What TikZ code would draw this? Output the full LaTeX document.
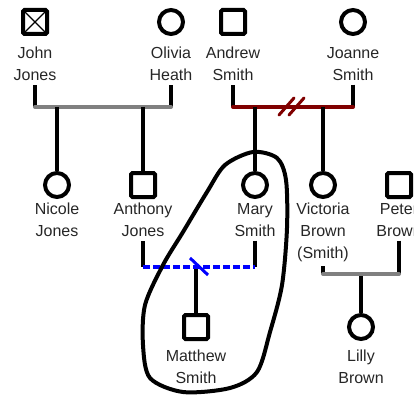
\documentclass[tikz,border=0pt]{standalone}
\usepackage{fontspec}
\setmainfont{Liberation Sans}
\definecolor{bondgray}{HTML}{808080}
\definecolor{splitred}{HTML}{800000}
\begin{document}
\begin{tikzpicture}[x=1pt,y=-1pt,
  male/.style={draw,line width=4pt,rounded corners=1.5pt,minimum size=24pt,inner sep=0pt},
  female/.style={draw,circle,line width=4pt,minimum size=24pt,inner sep=0pt},
  who/.style={anchor=north,align=center,inner sep=0pt,text=black!85,font=\fontsize{16}{22}\selectfont},
  stem/.style={line width=4pt,shorten <=4pt},
  drop/.style={line width=4pt},
  bond/.style={line width=4pt,bondgray,line cap=round},
  split/.style={line width=4pt,splitred,line cap=round},
  liaison/.style={line width=4pt,blue,dash pattern=on 7pt off 3pt},
  ring/.style={line width=4pt,line join=round}]
\useasboundingbox (0,0) rectangle (414,398);
\clip (0,0) rectangle (414,398);

% first generation
\node[male,path picture={\draw[line width=1.2pt]
  (path picture bounding box.north west) -- (path picture bounding box.south east)
  (path picture bounding box.north east) -- (path picture bounding box.south west);}]
  (john) at (35,22) {};
\node[female] (olivia) at (171,22) {};
\node[male] (andrew) at (233,22) {};
\node[female] (joanne) at (353,22) {};
\node[who] (johnL) at (35,47) {John\\Jones};
\node[who] (oliviaL) at (171,47) {Olivia\\Heath};
\node[who] (andrewL) at (233,47) {Andrew\\Smith};
\node[who] (joanneL) at (353,47) {Joanne\\Smith};

\coordinate (jo) at (35,107);
\coordinate (ol) at (171,107);
\coordinate (an) at (233,107);
\coordinate (jn) at (353,107);
\coordinate (jonesA) at (57,107);
\coordinate (jonesB) at (143,107);
\coordinate (smithA) at (255,107);
\coordinate (smithB) at (323,107);
\coordinate (cut) at (291,107);

% second generation
\node[female] (nicole) at (57,185) {};
\node[male] (anthony) at (143,185) {};
\node[female] (mary) at (255,185) {};
\node[female] (victoria) at (323,185) {};
\node[male] (peter) at (399,185) {};
\node[who] (nicoleL) at (57,203) {Nicole\\Jones};
\node[who] (anthonyL) at (143,203) {Anthony\\Jones};
\node[who] (maryL) at (255,203) {Mary\\Smith};
\node[who] (victoriaL) at (323,203) {Victoria\\Brown\\(Smith)};
\node[who] (peterL) at (399,203) {Peter\\Brown};

\coordinate (at) at (143,267);
\coordinate (ma) at (255,267);
\coordinate (mid) at (196,267);
\coordinate (vi) at (323,274);
\coordinate (pe) at (399,274);
\coordinate (brown) at (361,274);

% third generation
\node[male] (matthew) at (196,327) {};
\node[female] (lilly) at (361,327) {};
\node[who] (matthewL) at (196,350) {Matthew\\Smith};
\node[who] (lillyL) at (361,350) {Lilly\\Brown};

\draw[stem] (johnL.south) -- (jo);
\draw[stem] (oliviaL.south) -- (ol);
\draw[stem] (andrewL.south) -- (an);
\draw[stem] (joanneL.south) -- (jn);
\draw[bond] (jo) -- (ol);
\draw[split] (an) -- (jn);
\draw[split,line width=3pt] (cut) ++(-12,8) -- ++(15,-17);
\draw[split,line width=3pt] (cut) ++(-2,8) -- ++(15,-17);
\draw[drop] (jonesA) -- (nicole);
\draw[drop] (jonesB) -- (anthony);
\draw[drop] (smithA) -- (mary);
\draw[drop] (smithB) -- (victoria);

\draw[stem] (anthonyL.south) -- (at);
\draw[stem] (maryL.south) -- (ma);
\draw[stem] (victoriaL.south) -- (vi);
\draw[stem] (peterL.south) -- (pe);
\draw[drop] (mid) -- (matthew);
\draw[drop] (brown) -- (lilly);
\draw[liaison] (at) -- (ma);
\draw[line width=3pt,blue] (mid) ++(-6,-9) -- ++(18,17);
\draw[bond] (vi) -- (pe);

\draw[ring] plot[smooth cycle] coordinates {(253,152) (277,158) (286,180) (287,228)
  (282,285) (270,332) (257,372) (230,388) (183,392) (150,378) (143,345) (145,305)
  (163,265) (183,232) (207,192) (225,165)};
\end{tikzpicture}
\end{document}
